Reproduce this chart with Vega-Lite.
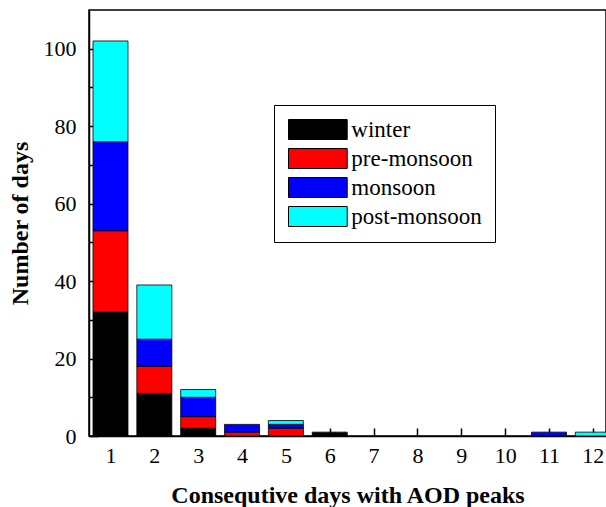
{
  "$schema": "https://vega.github.io/schema/vega-lite/v6.json",
  "autosize": "none",
  "padding": {"left": 89, "top": 10, "right": 0, "bottom": 71},
  "width": 517,
  "height": 426,
  "background": "white",
  "config": {
    "font": "Liberation Serif",
    "view": {"stroke": "black", "strokeWidth": 1.5},
    "axis": {
      "domainColor": "black",
      "domainWidth": 1.5,
      "ticks": true,
      "tickColor": "black",
      "tickOpacity": 1,
      "tickWidth": 1.5,
      "grid": false,
      "zindex": 1,
      "labelFont": "Liberation Serif",
      "labelFontSize": 22,
      "labelColor": "black",
      "titleFont": "Liberation Serif",
      "titleFontSize": 24,
      "titleFontWeight": "bold",
      "titleColor": "black"
    }
  },
  "data": {
    "values": [
      {"days": 1, "season": "winter", "rank": 1, "count": 32},
      {"days": 1, "season": "pre-monsoon", "rank": 2, "count": 21},
      {"days": 1, "season": "monsoon", "rank": 3, "count": 23},
      {"days": 1, "season": "post-monsoon", "rank": 4, "count": 26},
      {"days": 2, "season": "winter", "rank": 1, "count": 11},
      {"days": 2, "season": "pre-monsoon", "rank": 2, "count": 7},
      {"days": 2, "season": "monsoon", "rank": 3, "count": 7},
      {"days": 2, "season": "post-monsoon", "rank": 4, "count": 14},
      {"days": 3, "season": "winter", "rank": 1, "count": 2},
      {"days": 3, "season": "pre-monsoon", "rank": 2, "count": 3},
      {"days": 3, "season": "monsoon", "rank": 3, "count": 5},
      {"days": 3, "season": "post-monsoon", "rank": 4, "count": 2},
      {"days": 4, "season": "pre-monsoon", "rank": 2, "count": 1},
      {"days": 4, "season": "monsoon", "rank": 3, "count": 2},
      {"days": 5, "season": "pre-monsoon", "rank": 2, "count": 2},
      {"days": 5, "season": "monsoon", "rank": 3, "count": 1},
      {"days": 5, "season": "post-monsoon", "rank": 4, "count": 1},
      {"days": 6, "season": "winter", "rank": 1, "count": 1},
      {"days": 11, "season": "monsoon", "rank": 3, "count": 1},
      {"days": 12, "season": "post-monsoon", "rank": 4, "count": 1}
    ]
  },
  "mark": {"type": "bar", "size": 35, "stroke": "black", "strokeWidth": 1, "strokeOpacity": 0.8},
  "encoding": {
    "x": {
      "field": "days",
      "type": "quantitative",
      "title": "Consequtive days with AOD peaks",
      "scale": {"domain": [0.51, 12.3], "nice": false, "zero": false, "padding": 0},
      "axis": {
        "values": [1, 2, 3, 4, 5, 6, 7, 8, 9, 10, 11, 12],
        "format": "d",
        "tickSize": -8,
        "labelPadding": 17,
        "titlePadding": 17
      }
    },
    "y": {
      "field": "count",
      "type": "quantitative",
      "stack": "zero",
      "title": "Number of days",
      "scale": {"domain": [0, 110], "nice": false, "padding": 0},
      "axis": {
        "values": [0, 10, 20, 30, 40, 50, 60, 70, 80, 90, 100],
        "labelExpr": "datum.value % 20 === 0 ? datum.label : ''",
        "tickSize": -9,
        "labelPadding": 22,
        "titlePadding": 11
      }
    },
    "color": {
      "field": "season",
      "type": "nominal",
      "scale": {
        "domain": ["winter", "pre-monsoon", "monsoon", "post-monsoon"],
        "range": ["#000000", "#ff0000", "#0000ff", "#00ffff"]
      },
      "legend": {
        "title": null,
        "orient": "none",
        "legendX": 185,
        "legendY": 95,
        "strokeColor": "black",
        "fillColor": "white",
        "padding": 13,
        "symbolType": "M-2.935,-1H2.935V1H-2.935Z",
        "symbolSize": 400,
        "symbolStrokeColor": "black",
        "symbolStrokeWidth": 1,
        "symbolOffset": 19.35,
        "labelOffset": 22,
        "labelFont": "Liberation Serif",
        "labelFontSize": 23,
        "labelColor": "black",
        "rowPadding": 4
      }
    },
    "order": {"field": "rank", "type": "quantitative", "sort": "ascending"}
  }
}
